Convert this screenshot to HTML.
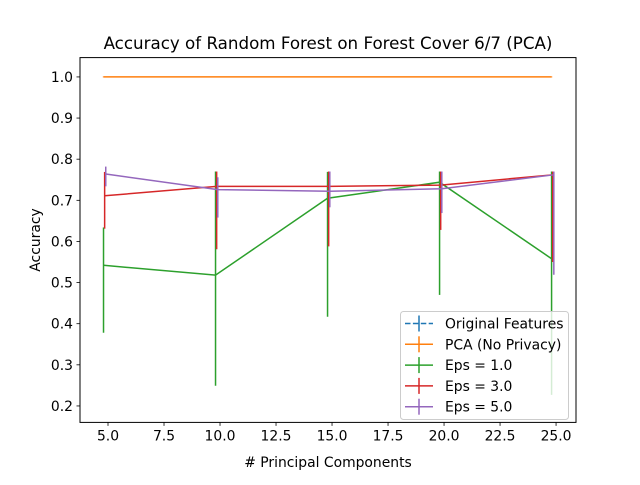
<!DOCTYPE html>
<html><head><meta charset="utf-8"><style>
body{margin:0;background:#fff}
svg text{font-family:"DejaVu Sans","Liberation Sans",sans-serif;fill:#000}
</style></head><body>
<svg id="c" width="640" height="480" xmlns="http://www.w3.org/2000/svg">
<rect width="640" height="480" fill="#fff"/>
<g id="plot"></g>
</svg>
<script>
const xCats=[5,10,15,20,25];
const xTicks=[5.0,7.5,10.0,12.5,15.0,17.5,20.0,22.5,25.0];
const yTicks=[0.2,0.3,0.4,0.5,0.6,0.7,0.8,0.9,1.0];
const pcaVals=[1.0,1.0,1.0,1.0,1.0];
const eps1Vals=[0.542,0.518,0.705,0.744,0.558];
const eps1Lo=[0.378,0.249,0.417,0.470,0.227];
const eps1Hi=[0.634,0.77,0.769,0.77,0.77];
const eps3Vals=[0.711,0.734,0.734,0.737,0.762];
const eps3Lo=[0.631,0.581,0.588,0.628,0.55];
const eps3Hi=[0.769,0.77,0.77,0.77,0.77];
const eps5Vals=[0.764,0.726,0.722,0.728,0.762];
const eps5Lo=[0.734,0.658,0.683,0.669,0.519];
const eps5Hi=[0.782,0.756,0.77,0.77,0.77];

const L=80,R=576,T=57.6,B=422.4;
const xmin=3.75,xmax=25.89,ymin=0.16,ymax=1.047;
const X=v=>L+(v-xmin)/(xmax-xmin)*(R-L);
const Y=v=>B-(v-ymin)/(ymax-ymin)*(B-T);
const NS="http://www.w3.org/2000/svg";
const svg=document.getElementById('c');
const g=document.getElementById('plot');
function mk(t,a,p){const e=document.createElementNS(NS,t);for(const k in a)e.setAttribute(k,a[k]);(p||g).appendChild(e);return e;}

function series(vals,lo,hi,off,color,name){
  const grp=mk('g',{});
  
  
  vals.forEach((v,i)=>{
    const x=X(xCats[i]+off);
    const l=lo?lo[i]:v-0.001, h=hi?hi[i]:v+0.001;
    const e=mk('line',{x1:x,x2:x,y1:Y(l),y2:Y(h),stroke:color,'stroke-width':1.5},grp);
    
    
  });
  const pts=vals.map((v,i)=>X(xCats[i]+off)+','+Y(v)).join(' ');
  const pl=mk('polyline',{points:pts,fill:'none',stroke:color,'stroke-width':1.5},grp);
  
  
}
series(pcaVals,null,null,-0.2,'#ff7f0e','pca-series');
series(eps1Vals,eps1Lo,eps1Hi,-0.2,'#2ca02c','eps1-series');
series(eps3Vals,eps3Lo,eps3Hi,-0.15,'#d62728','eps3-series');
series(eps5Vals,eps5Lo,eps5Hi,-0.1,'#9467bd','eps5-series');

// axes frame
const fr=mk('rect',{x:L,y:T,width:R-L,height:B-T,fill:'none',stroke:'#000','stroke-width':1});


xTicks.forEach(t=>{
  const x=X(t);
  mk('line',{x1:x,x2:x,y1:B,y2:B+3.5,stroke:'#000','stroke-width':0.8});
  const tx=mk('text',{x:x,y:B+18,'font-size':13.9,'text-anchor':'middle'});
  tx.textContent=t.toFixed(1);
  
  
});
yTicks.forEach(t=>{
  const y=Y(t);
  mk('line',{x1:L-3.5,x2:L,y1:y,y2:y,stroke:'#000','stroke-width':0.8});
  const tx=mk('text',{x:L-7,y:y+5,'font-size':13.9,'text-anchor':'end'});
  tx.textContent=t.toFixed(1);
  
  
});
const ti=mk('text',{x:328,y:49,'font-size':16.7,'text-anchor':'middle'});
ti.textContent='Accuracy of Random Forest on Forest Cover 6/7 (PCA)';


const xl=mk('text',{x:328,y:467,'font-size':13.9,'text-anchor':'middle'});
xl.textContent='# Principal Components';


const yl=mk('text',{x:0,y:0,'font-size':13.9,'text-anchor':'middle',transform:'translate(40,240) rotate(-90)'});
yl.textContent='Accuracy';



// legend
const lg=mk('g',{});


mk('rect',{x:400.5,y:311.5,width:168,height:108,rx:3,fill:'#fff','fill-opacity':0.8,stroke:'#ccc'},lg);
const entries=[['Original Features','#1f77b4',true],['PCA (No Privacy)','#ff7f0e'],['Eps = 1.0','#2ca02c'],['Eps = 3.0','#d62728'],['Eps = 5.0','#9467bd']];
entries.forEach((e,i)=>{
  const y=323.5+i*20.8;
  const eg=mk('g',{},lg);
  
  
  mk('line',{x1:405,x2:433,y1:y,y2:y,stroke:e[1],'stroke-width':1.5,'stroke-dasharray':e[2]?'5.5,2.4':'none'},eg);
  mk('line',{x1:419,x2:419,y1:y-8,y2:y+8,stroke:e[1],'stroke-width':1.5},eg);
  const t=mk('text',{x:445,y:y+5,'font-size':13.9},eg);
  t.textContent=e[0];
});
</script>
</body></html>
